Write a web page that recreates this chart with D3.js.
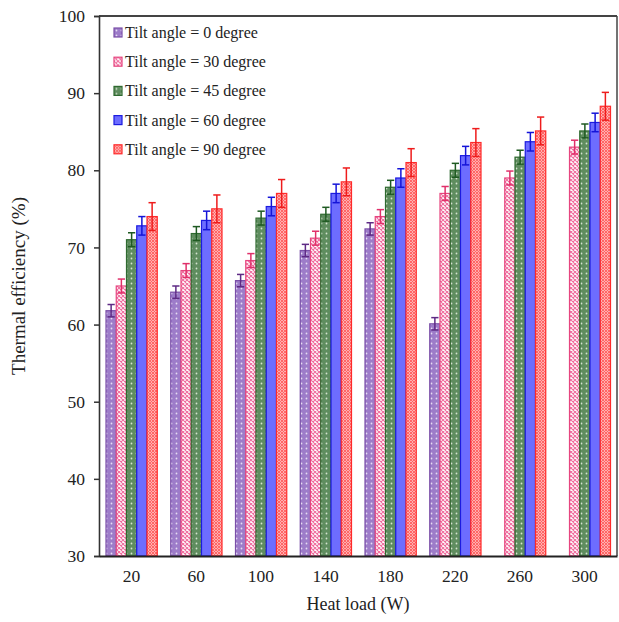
<!DOCTYPE html>
<html>
<head>
<meta charset="utf-8">
<script src="https://cdn.jsdelivr.net/npm/d3@7"></script>
<style>
  body { margin: 0; background: #fff; }
  svg { display: block; font-family: "Liberation Serif", "DejaVu Serif", serif; }
</style>
</head>
<body>
<div id="chart-area"></div>
<script>
// data
var heatLoads = ["20", "60", "100", "140", "180", "220", "260", "300"];
var seriesNames = ["Tilt angle = 0 degree", "Tilt angle = 30 degree", "Tilt angle = 45 degree",
                   "Tilt angle = 60 degree", "Tilt angle = 90 degree"];
var tilt0  = [61.8, 64.2, 65.7, 69.6, 72.4, 60.1, null, null];
var tilt30 = [65.0, 67.0, 68.3, 71.2, 74.0, 77.0, 79.0, 83.0];
var tilt45 = [71.0, 71.8, 73.8, 74.3, 77.8, 80.0, 81.7, 85.1];
var tilt60 = [72.8, 73.5, 75.3, 77.0, 79.0, 81.9, 83.7, 86.2];
var tilt90 = [74.0, 75.0, 77.0, 78.5, 81.0, 83.6, 85.1, 88.3];
var errors = [0.8, 0.9, 0.9, 1.2, 1.8];
var yTicks = [30, 40, 50, 60, 70, 80, 90, 100];

var allSeries = [tilt0, tilt30, tilt45, tilt60, tilt90];

var margin = { left: 99, right: 2, top: 16, bottom: 66 };
var W = 619, H = 622;
var width = W - margin.left - margin.right,
    height = H - margin.top - margin.bottom;

var svg = d3.select("#chart-area")
    .append("svg")
    .attr("width", W)
    .attr("height", H);

// fill patterns
var defs = svg.append("defs");
var styles = [
    { id: "p0",  bg: "#9d7cc9", dot: "#e6dcf2", stroke: "#7a4fa8", err: "#5e2a85", kind: "dots" },
    { id: "p30", bg: "#ffffff", dot: "#f06c9e", stroke: "#e6457f", err: "#e0306a", kind: "cross" },
    { id: "p45", bg: "#5f8d5f", dot: "#d4e3d0", stroke: "#2f6a30", err: "#1f5a22", kind: "dots" },
    { id: "p60", bg: "#6d6dff", dot: null,      stroke: "#1c1ce0", err: "#1414d8", kind: "solid" },
    { id: "p90", bg: "#ffb0b0", dot: "#ff5f5f", stroke: "#ff2a2a", err: "#ee1c1c", kind: "fine" }
];
styles.forEach(function (s) {
    if (s.kind == "dots") {
        var p = defs.append("pattern").attr("id", s.id)
            .attr("patternUnits", "userSpaceOnUse").attr("width", 5).attr("height", 5);
        p.append("rect").attr("width", 5).attr("height", 5).attr("fill", s.bg);
        p.append("circle").attr("cx", 2.5).attr("cy", 2.5).attr("r", 0.9).attr("fill", s.dot);
    } else if (s.kind == "cross") {
        var p = defs.append("pattern").attr("id", s.id)
            .attr("patternUnits", "userSpaceOnUse").attr("width", 4).attr("height", 4);
        p.append("rect").attr("width", 4).attr("height", 4).attr("fill", s.bg);
        p.append("path").attr("d", "M0,0L4,4M4,0L0,4")
            .attr("stroke", s.dot).attr("stroke-width", 1.1);
    } else if (s.kind == "fine") {
        var p = defs.append("pattern").attr("id", s.id)
            .attr("patternUnits", "userSpaceOnUse").attr("width", 3).attr("height", 3);
        p.append("rect").attr("width", 3).attr("height", 3).attr("fill", s.bg);
        p.append("path").attr("d", "M0,0L3,3M3,0L0,3")
            .attr("stroke", s.dot).attr("stroke-width", 0.9);
    }
});
function fillOf(i) {
    return styles[i].kind == "solid" ? styles[i].bg : "url(#" + styles[i].id + ")";
}

var g = svg.append("g")
    .attr("transform", "translate(" + margin.left + "," + margin.top + ")");

var x = d3.scaleBand()
    .domain(heatLoads)
    .range([0, width])
    .paddingInner(0)
    .paddingOuter(0);

var x1 = d3.scaleBand()
    .domain(d3.range(allSeries.length))
    .range([7, x.bandwidth() - 6.5]);

var y = d3.scaleLinear()
    .domain([30, 100])
    .range([height, 0]);

// bars
allSeries.forEach(function (vals, si) {
    var rows = vals.map(function (v, i) { return { cat: heatLoads[i], v: v }; })
        .filter(function (d) { return d.v != null; });
    var sg = g.append("g").attr("class", "series-" + si);
    sg.selectAll("rect")
        .data(rows)
        .enter()
        .append("rect")
        .attr("x", function (d) { return x(d.cat) + x1(si); })
        .attr("y", function (d) { return y(d.v); })
        .attr("width", x1.bandwidth())
        .attr("height", function (d) { return height - y(d.v); })
        .attr("fill", fillOf(si))
        .attr("stroke", styles[si].stroke)
        .attr("stroke-width", 1.2);

    // error bars
    var e = errors[si];
    var eg = sg.selectAll("g.err")
        .data(rows)
        .enter()
        .append("g")
        .attr("class", "err")
        .attr("stroke", styles[si].err)
        .attr("stroke-width", 1.5);
    eg.append("line")
        .attr("x1", function (d) { return x(d.cat) + x1(si) + x1.bandwidth() / 2; })
        .attr("x2", function (d) { return x(d.cat) + x1(si) + x1.bandwidth() / 2; })
        .attr("y1", function (d) { return y(d.v - e); })
        .attr("y2", function (d) { return y(d.v + e); });
    [-e, e].forEach(function (off) {
        eg.append("line")
            .attr("x1", function (d) { return x(d.cat) + x1(si) + 1.5; })
            .attr("x2", function (d) { return x(d.cat) + x1(si) + x1.bandwidth() - 1.5; })
            .attr("y1", function (d) { return y(d.v + off); })
            .attr("y2", function (d) { return y(d.v + off); });
    });
});

// frame
g.append("line").attr("x1", 0).attr("x2", width).attr("y1", 0).attr("y2", 0)
    .attr("stroke", "#444").attr("stroke-width", 2.2);
g.append("line").attr("x1", width).attr("x2", width).attr("y1", 0).attr("y2", height)
    .attr("stroke", "#444").attr("stroke-width", 1.5);

// axes
var leftAxis = d3.axisLeft(y).tickValues(yTicks).tickSize(5).tickPadding(9);
var yG = g.append("g").attr("class", "y-axis").call(leftAxis);
yG.select(".domain").attr("stroke", "#333").attr("stroke-width", 1.6);
yG.selectAll(".tick line").attr("stroke", "#333").attr("stroke-width", 1.5);
yG.selectAll("text").attr("font-size", "17.5px").attr("fill", "#222")
    .attr("font-family", "Liberation Serif");

var bottomAxis = d3.axisBottom(x).tickSize(0).tickPadding(14);
var xG = g.append("g").attr("class", "x-axis")
    .attr("transform", "translate(0," + height + ")")
    .call(bottomAxis);
xG.select(".domain").attr("stroke", "#222").attr("stroke-width", 2);
xG.selectAll("text").attr("font-size", "17.5px").attr("fill", "#222")
    .attr("font-family", "Liberation Serif");

// axis titles
svg.append("text")
    .attr("x", 358)
    .attr("y", 610)
    .attr("text-anchor", "middle")
    .attr("font-size", "18px")
    .attr("fill", "#222")
    .text("Heat load (W)");

svg.append("text")
    .attr("transform", "translate(25," + (margin.top + height / 2) + ") rotate(-90)")
    .attr("text-anchor", "middle")
    .attr("font-size", "19px")
    .attr("fill", "#222")
    .text("Thermal efficiency (%)");

// legend
var legend = svg.append("g").attr("transform", "translate(114,28)");
var lg = legend.selectAll("g")
    .data(seriesNames)
    .enter()
    .append("g")
    .attr("transform", function (d, i) { return "translate(0," + (i * 29.2) + ")"; });
lg.append("rect")
    .attr("width", 8).attr("height", 9)
    .attr("fill", function (d, i) { return fillOf(i); })
    .attr("stroke", function (d, i) { return styles[i].stroke; })
    .attr("stroke-width", 1.2);
lg.append("text")
    .attr("x", 11)
    .attr("y", 10)
    .attr("font-size", "16px")
    .attr("fill", "#222")
    .text(function (d) { return d; });
</script>
</body>
</html>
